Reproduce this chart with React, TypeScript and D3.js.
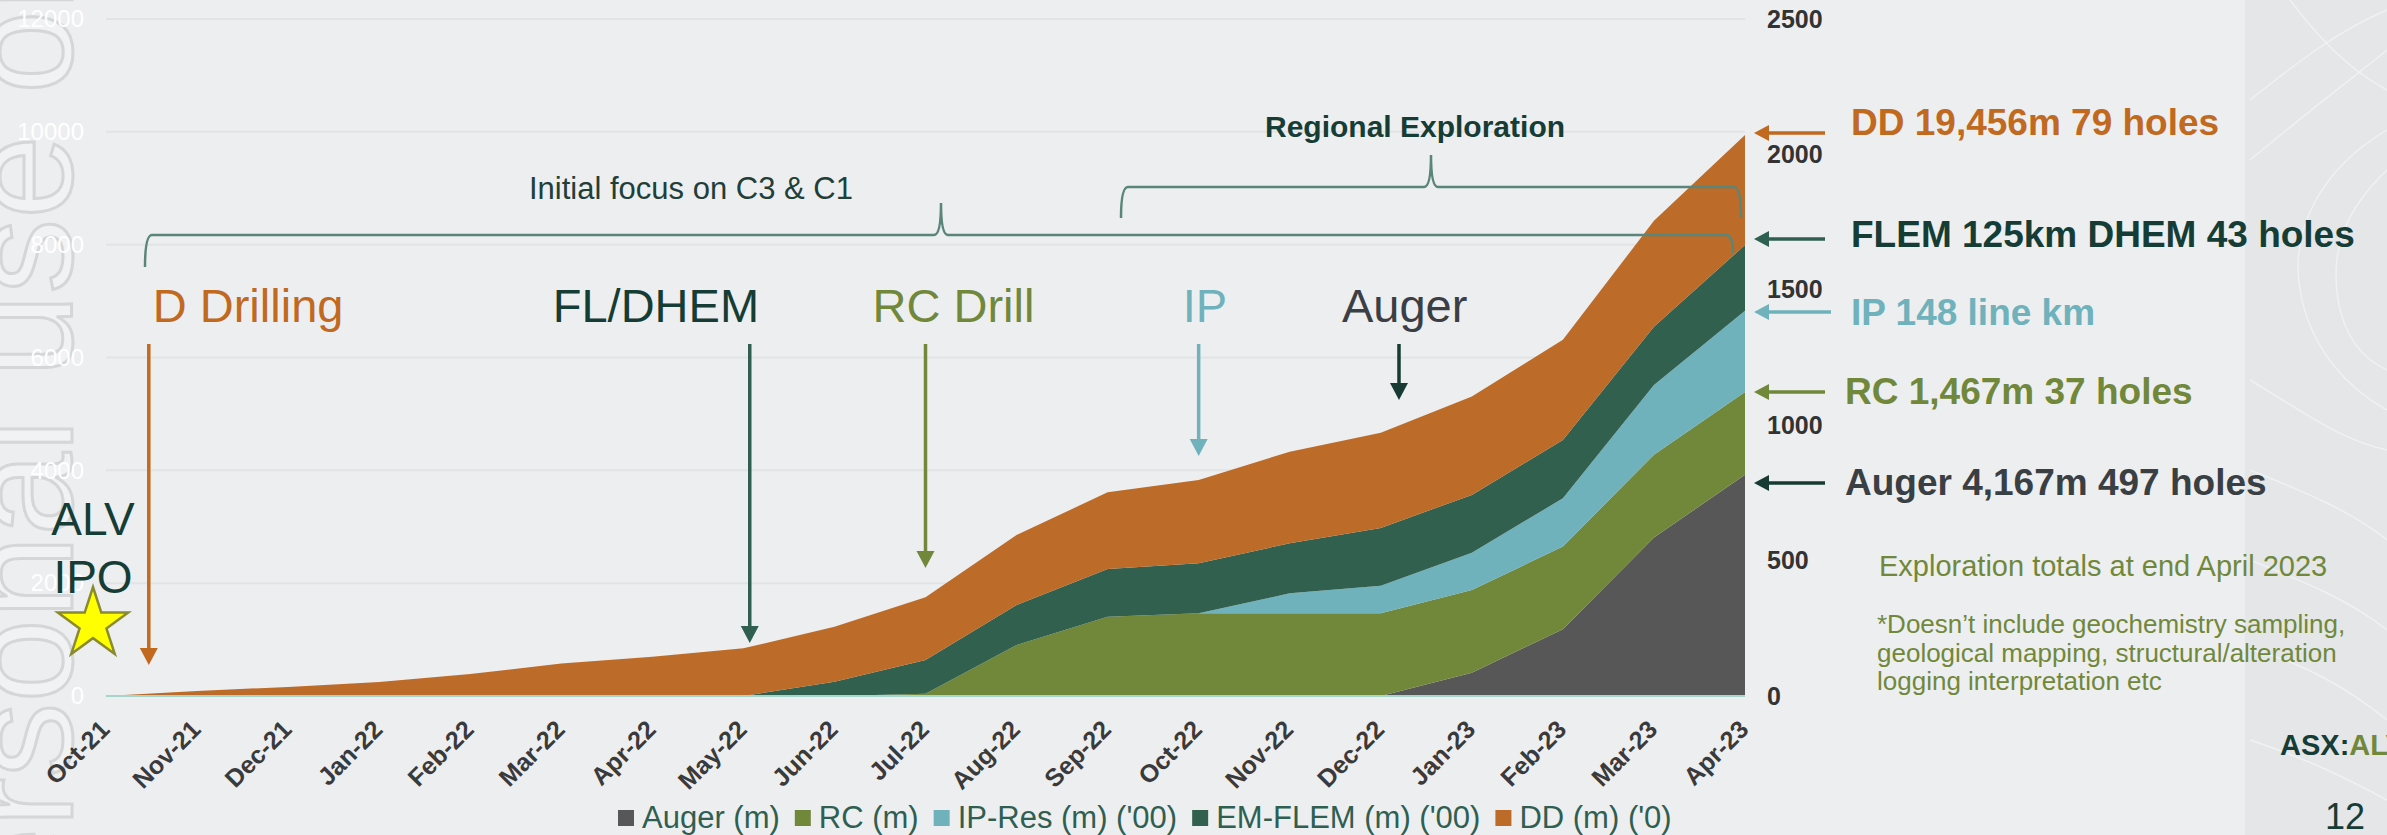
import React, { useEffect, useRef } from "react";
import * as d3 from "d3";

// ---------- data ----------
const months = [
  "Oct-21", "Nov-21", "Dec-21", "Jan-22", "Feb-22", "Mar-22", "Apr-22", "May-22", "Jun-22",
  "Jul-22", "Aug-22", "Sep-22", "Oct-22", "Nov-22", "Dec-22", "Jan-23", "Feb-23", "Mar-23", "Apr-23",
];
const auger = [0, 0, 0, 0, 0, 0, 0, 0, 0, 0, 0, 0, 0, 0, 0, 414, 1182, 2810, 3920];
const rc = [0, 0, 0, 0, 0, 0, 0, 0, 0, 40, 904, 1406, 1465, 1465, 1465, 1465, 1467, 1467, 1467];
const ipRes = [0, 0, 0, 0, 0, 0, 0, 0, 0, 0, 0, 0, 0, 355, 490, 661, 855, 1235, 1443];
const emFlem = [0, 0, 0, 0, 0, 0, 0, 0, 253, 598, 709, 845, 887, 887, 1025, 1025, 1034, 1034, 1164];
const dd = [0, 90, 160, 250, 390, 575, 697, 845, 975, 1111, 1241, 1359, 1477, 1623, 1684, 1742, 1778, 1877, 1950];

const seriesKeys = ["auger", "rc", "ip", "em", "dd"];
const seriesLabels = ["Auger (m)", "RC (m)", "IP-Res (m) ('00)", "EM-FLEM (m) ('00)", "DD (m) ('0)"];
const seriesColors = ["#575757", "#71883a", "#6fb2bc", "#32604f", "#bd6b28"];

const leftTicks = [0, 2000, 4000, 6000, 8000, 10000, 12000];
const rightTicks = [0, 500, 1000, 1500, 2000, 2500];

// milestone annotations (month index where the arrow points, value at arrow tip)
const milestoneLabels = ["D Drilling", "FL/DHEM", "RC Drill", "IP", "Auger"];
const milestoneAt = [0.47, 7.07, 9.0, 12.0, 14.2];
const milestoneTip = [549, 939, 2269, 4254, 5247];
const milestoneColors = ["#c0691f", "#2f5f4f", "#71883a", "#6fb2bc", "#173a33"];
const milestoneTextColors = ["#c0691f", "#163d35", "#71883a", "#6fb2bc", "#3b3f45"];
const milestoneTextDx = [4, -197, -53, -16, -57];

// right-hand totals call-outs
const calloutTexts = [
  "DD 19,456m 79 holes",
  "FLEM 125km DHEM 43 holes",
  "IP 148 line km",
  "RC 1,467m 37 holes",
  "Auger 4,167m 497 holes",
];
const calloutColors = ["#c0691f", "#163d35", "#6fb2bc", "#71883a", "#3a3f44"];
const calloutArrowColors = ["#c0691f", "#2f5f4f", "#6fb2bc", "#71883a", "#173a33"];

const footnoteLines = [
  "*Doesn\u2019t include geochemistry sampling,",
  "geological mapping, structural/alteration",
  "logging interpretation etc",
];

export default function App() {
  const ref = useRef<SVGSVGElement>(null);

  useEffect(() => {
    const W = 2387;
    const H = 835;
    const FONT = "'Liberation Sans', Arial, Helvetica, sans-serif";
    const svg = d3.select(ref.current as SVGSVGElement);
    svg.selectAll("*").remove();
    svg.attr("font-family", FONT);

    const x = d3.scalePoint<string>().domain(months).range([106, 1745]);
    const step = x.step();
    const xi = (i: number) => (x(months[0]) as number) + i * step;
    const y = d3.scaleLinear().domain([0, 12000]).range([696, 19]);
    const yR = d3.scaleLinear().domain([0, 2500]).range([696, 19]);

    // background
    svg.append("rect").attr("width", W).attr("height", H).attr("fill", "#edeef0");
    svg.append("rect").attr("x", 2245).attr("width", W - 2245).attr("height", H).attr("fill", "#e4e6e8");
    const contours = [
      "M2290,0 C2320,40 2350,70 2387,90",
      "M2250,100 C2300,60 2340,30 2387,10",
      "M2250,160 C2310,110 2350,80 2387,50",
      "M2387,130 C2320,170 2290,230 2300,290 C2310,350 2350,390 2387,410",
      "M2387,170 C2345,210 2330,250 2338,300 C2345,340 2365,360 2387,370",
      "M2250,380 C2300,410 2340,440 2387,450",
      "M2250,470 C2300,490 2350,510 2387,540",
      "M2250,560 C2300,580 2350,600 2387,630",
      "M2250,650 C2300,660 2350,690 2387,720",
      "M2250,740 C2310,760 2350,780 2387,800",
    ];
    svg.append("g").selectAll("path").data(contours).join("path")
      .attr("d", (d) => d).attr("fill", "none").attr("stroke", "#f3f4f5").attr("stroke-width", 1.5).attr("opacity", 0.8);

    // watermark
    svg.append("text")
      .attr("transform", "translate(72,1261) rotate(-90)")
      .attr("font-size", 150)
      .attr("fill", "#f1f2f4")
      .attr("stroke", "#d5d6d8")
      .attr("stroke-width", 3)
      .text("For personal use only");

    // gridlines
    svg.append("g").selectAll("line").data(leftTicks.filter((t) => t > 0)).join("line")
      .attr("x1", 106).attr("x2", 1745)
      .attr("y1", (d) => y(d)).attr("y2", (d) => y(d))
      .attr("stroke", "#e2e3e5").attr("stroke-width", 2);

    // left axis (white labels)
    const gl = svg.append("g").attr("transform", "translate(87,0)")
      .call(d3.axisLeft(y).tickValues(leftTicks).tickSize(0).tickPadding(3).tickFormat((d) => String(d)));
    gl.select(".domain").remove();
    gl.selectAll("text").attr("font-family", FONT).attr("font-size", 24).attr("fill", "#ffffff");

    // right axis
    const gr = svg.append("g").attr("transform", "translate(1764,0)")
      .call(d3.axisRight(yR).tickValues(rightTicks).tickSize(0).tickPadding(3).tickFormat((d) => String(d)));
    gr.select(".domain").remove();
    gr.selectAll("text").attr("font-family", FONT).attr("font-size", 25).attr("font-weight", "bold").attr("fill", "#333333");

    // stacked areas
    const table = months.map((m, i) => ({
      month: m, auger: auger[i], rc: rc[i], ip: ipRes[i], em: emFlem[i], dd: dd[i],
    }));
    const stacked = d3.stack<any>().keys(seriesKeys)(table);
    const area = d3.area<any>()
      .x((d) => x(d.data.month) as number)
      .y0((d) => y(d[0]))
      .y1((d) => y(d[1]));
    svg.append("g").selectAll("path").data(stacked).join("path")
      .attr("d", (s) => area(s as any) as string)
      .attr("fill", (_s, i) => seriesColors[i]);

    // baseline
    svg.append("line").attr("x1", 106).attr("x2", 1745).attr("y1", y(0)).attr("y2", y(0))
      .attr("stroke", "#a8d5cb").attr("stroke-width", 2);

    // x labels
    svg.append("g").selectAll("text").data(months).join("text")
      .attr("transform", (m) => `translate(${(x(m) as number) + 5},731) rotate(-45)`)
      .attr("text-anchor", "end")
      .attr("font-size", 25).attr("font-weight", "bold").attr("fill", "#3a3a3a")
      .text((m) => m);

    // arrows
    const arrowDown = (ax: number, y1: number, tip: number, color: string) => {
      svg.append("line").attr("x1", ax).attr("x2", ax).attr("y1", y1).attr("y2", tip - 14)
        .attr("stroke", color).attr("stroke-width", 3.5);
      svg.append("path").attr("d", `M${ax - 9},${tip - 17} L${ax + 9},${tip - 17} L${ax},${tip} Z`).attr("fill", color);
    };
    const arrowLeft = (x1: number, tip: number, ay: number, color: string) => {
      svg.append("line").attr("x1", x1).attr("x2", tip + 12).attr("y1", ay).attr("y2", ay)
        .attr("stroke", color).attr("stroke-width", 3.5);
      svg.append("path").attr("d", `M${tip + 15},${ay - 8} L${tip + 15},${ay + 8} L${tip},${ay} Z`).attr("fill", color);
    };

    milestoneLabels.forEach((lab, i) => {
      const ax = xi(milestoneAt[i]);
      arrowDown(ax, 344, y(milestoneTip[i]), milestoneColors[i]);
      svg.append("text").attr("x", ax + milestoneTextDx[i]).attr("y", 322)
        .attr("font-size", 47).attr("fill", milestoneTextColors[i]).text(lab);
    });

    // brackets
    const brk = (x1: number, xp: number, x2: number, yh: number, yl: number, yr: number, ypeak: number) =>
      `M${x1},${yl} Q${x1},${yh} ${x1 + 7},${yh} L${xp - 7},${yh} Q${xp},${yh} ${xp},${ypeak} Q${xp},${yh} ${xp + 7},${yh} L${x2 - 7},${yh} Q${x2},${yh} ${x2},${yr}`;
    svg.append("path").attr("d", brk(145, 941, 1733, 235, 267, 253, 203))
      .attr("fill", "none").attr("stroke", "#5a857a").attr("stroke-width", 2.5);
    svg.append("path").attr("d", brk(1121, 1431, 1741, 187, 218, 218, 155))
      .attr("fill", "none").attr("stroke", "#5a857a").attr("stroke-width", 2.5);
    svg.append("text").attr("x", 529).attr("y", 199).attr("font-size", 31).attr("fill", "#1e4038")
      .text("Initial focus on C3 & C1");
    svg.append("text").attr("x", 1265).attr("y", 137).attr("font-size", 30).attr("font-weight", "bold")
      .attr("fill", "#163d35").text("Regional Exploration");

    // ALV IPO + star
    svg.append("text").attr("x", 93).attr("y", 535).attr("text-anchor", "middle").attr("font-size", 46)
      .attr("fill", "#163d35").text("ALV");
    svg.append("text").attr("x", 93).attr("y", 593).attr("text-anchor", "middle").attr("font-size", 46)
      .attr("fill", "#163d35").text("IPO");
    const R = 37, r = R * 0.382, cx = 93, cy = 624;
    const pts: [number, number][] = d3.range(10).map((k) => {
      const a = -Math.PI / 2 + (k * Math.PI) / 5;
      const rr = k % 2 === 0 ? R : r;
      return [cx + rr * Math.cos(a), cy + rr * Math.sin(a)];
    });
    svg.append("polygon").attr("points", pts.map((p) => p.join(",")).join(" "))
      .attr("fill", "#ffff00").attr("stroke", "#8a8a2e").attr("stroke-width", 2.5);

    // right call-outs
    const arrowYs = [133, 239, 312, 392, 483];
    const textYs = [135, 247, 325, 404, 495];
    const textXs = [1851, 1851, 1851, 1845, 1845];
    const tails = [1825, 1825, 1831, 1825, 1825];
    calloutTexts.forEach((t, i) => {
      arrowLeft(tails[i], 1754, arrowYs[i], calloutArrowColors[i]);
      svg.append("text").attr("x", textXs[i]).attr("y", textYs[i]).attr("font-size", 37)
        .attr("font-weight", "bold").attr("fill", calloutColors[i]).text(t);
    });

    svg.append("text").attr("x", 1879).attr("y", 576).attr("font-size", 29).attr("fill", "#71883a")
      .text("Exploration totals at end April 2023");
    svg.append("g").selectAll("text").data(footnoteLines).join("text")
      .attr("x", 1877).attr("y", (_d, i) => 633 + i * 28.5).attr("font-size", 26).attr("fill", "#71883a")
      .text((d) => d);

    const asx = svg.append("text").attr("x", 2280).attr("y", 755).attr("font-size", 29).attr("font-weight", "bold");
    asx.append("tspan").attr("fill", "#163d35").text("ASX:");
    asx.append("tspan").attr("fill", "#71883a").text("ALV");
    svg.append("text").attr("x", 2325).attr("y", 829).attr("font-size", 36).attr("fill", "#163d35").text("12");

    // legend
    const lg = svg.append("g");
    let lx = 618;
    seriesLabels.forEach((lab, i) => {
      lg.append("rect").attr("x", lx).attr("y", 810).attr("width", 16).attr("height", 16).attr("fill", seriesColors[i]);
      const t = lg.append("text").attr("x", lx + 24).attr("y", 828).attr("font-size", 31).attr("fill", "#2f5f50").text(lab);
      const len = (t.node() as SVGTextElement).getComputedTextLength();
      lx = lx + 24 + len + 15;
    });
  }, []);

  return (
    <svg
      ref={ref}
      width={2387}
      height={835}
      style={{ position: "absolute", left: 0, top: 0, display: "block" }}
    />
  );
}
